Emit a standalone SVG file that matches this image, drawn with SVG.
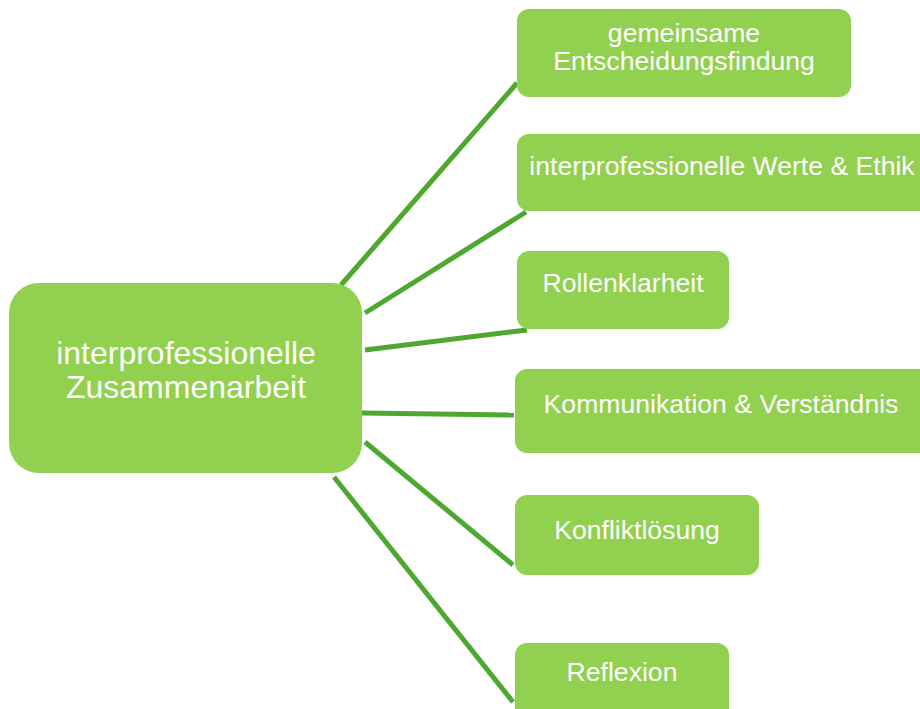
<svg xmlns="http://www.w3.org/2000/svg" width="920" height="709" viewBox="0 0 920 709">
<style>
.box{fill:#92D050;}
.t{font-family:"Liberation Sans",Arial,sans-serif;fill:#ffffff;text-anchor:middle;}
.s{font-size:26.6px;}
.c{font-size:32px;}
.ln{stroke:#4EA72E;stroke-width:5;fill:none;}
</style>
<rect width="920" height="709" fill="#ffffff"/>
<g id="connectors">
<line class="ln" x1="341" y1="285" x2="517" y2="83"/>
<line class="ln" x1="365" y1="313" x2="526" y2="212"/>
<line class="ln" x1="365" y1="350" x2="527" y2="330"/>
<line class="ln" x1="362" y1="413" x2="514" y2="415"/>
<line class="ln" x1="365" y1="442" x2="513" y2="565"/>
<line class="ln" x1="334" y1="477" x2="513" y2="702"/>
</g>
<g id="center">
<rect class="box" x="9" y="283" width="353" height="190" rx="30"/>
<text class="t c" x="186" y="364">interprofessionelle</text>
<text class="t c" x="186" y="398">Zusammenarbeit</text>
</g>
<g id="n1">
<rect class="box" x="517" y="9" width="334" height="88" rx="12"/>
<text class="t s" x="684" y="42">gemeinsame</text>
<text class="t s" x="684" y="70">Entscheidungsfindung</text>
</g>
<g id="n2">
<rect class="box" x="517" y="134" width="420" height="77" rx="12"/>
<text class="t s" x="722" y="175">interprofessionelle Werte &amp; Ethik</text>
</g>
<g id="n3">
<rect class="box" x="517" y="251" width="212" height="78" rx="12"/>
<text class="t s" x="623" y="292">Rollenklarheit</text>
</g>
<g id="n4">
<rect class="box" x="515" y="369" width="420" height="84" rx="12"/>
<text class="t s" x="721" y="413">Kommunikation &amp; Verständnis</text>
</g>
<g id="n5">
<rect class="box" x="515" y="495" width="244" height="80" rx="12"/>
<text class="t s" x="637" y="539">Konfliktlösung</text>
</g>
<g id="n6">
<rect class="box" x="515" y="643" width="214" height="80" rx="12"/>
<text class="t s" x="622" y="681">Reflexion</text>
</g>
</svg>
